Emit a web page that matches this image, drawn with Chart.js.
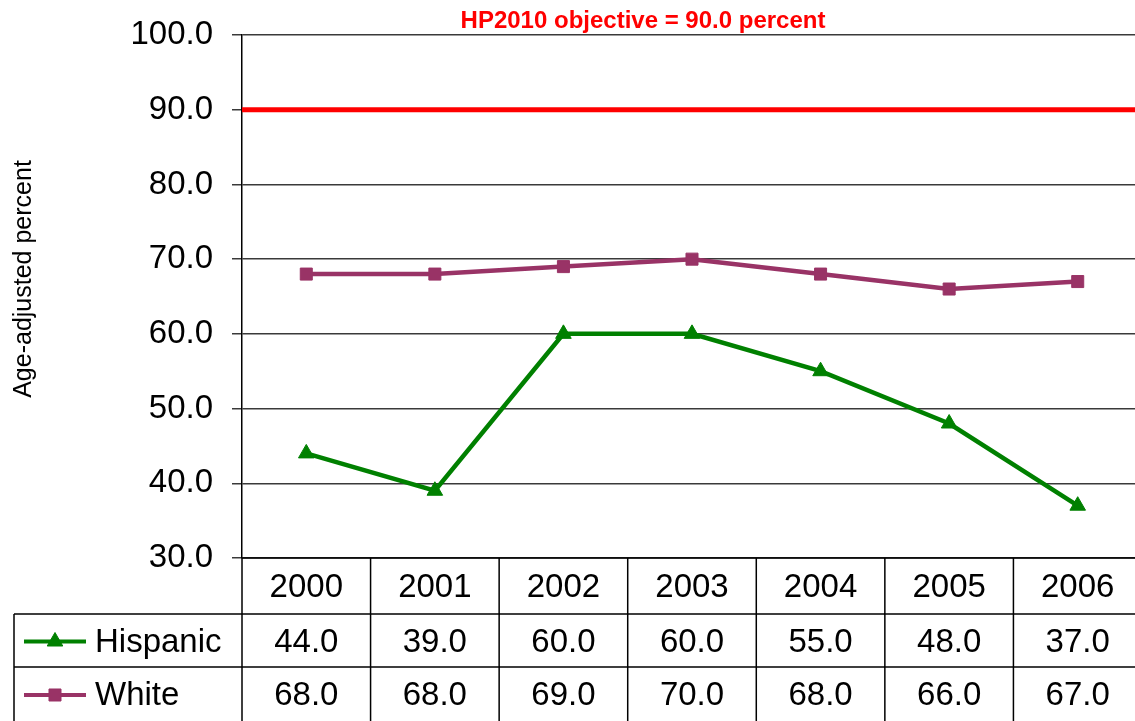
<!DOCTYPE html>
<html>
<head>
<meta charset="utf-8">
<script src="https://cdn.jsdelivr.net/npm/chart.js@4"></script>
<style>
  html, body { margin: 0; padding: 0; background: #fff; overflow: hidden; }
  #wrap { width: 1142px; height: 721px; position: relative; }
</style>
</head>
<body>
<div id="wrap"><canvas id="chart"></canvas></div>
<script>
// data
const years = ['2000', '2001', '2002', '2003', '2004', '2005', '2006'];
const hispanic = [44.0, 39.0, 60.0, 60.0, 55.0, 48.0, 37.0];
const white = [68.0, 68.0, 69.0, 70.0, 68.0, 66.0, 67.0];
const objective = 90.0;
const objectiveLabel = 'HP2010 objective = 90.0 percent';
const yTitle = 'Age-adjusted percent';

const FONT = 'Arial, "Liberation Sans", sans-serif';

// red objective line, its caption and the y axis title
const objectivePlugin = {
  id: 'objective',
  afterDatasetsDraw(chart) {
    const ctx = chart.ctx, a = chart.chartArea;
    const y = chart.scales.y.getPixelForValue(objective);
    ctx.save();
    ctx.strokeStyle = '#ff0000';
    ctx.lineWidth = 5;
    ctx.beginPath();
    ctx.moveTo(a.left, y);
    ctx.lineTo(a.right, y);
    ctx.stroke();
    ctx.fillStyle = '#ff0000';
    ctx.font = 'bold 24px ' + FONT;
    ctx.textAlign = 'center';
    ctx.textBaseline = 'middle';
    ctx.fillText(objectiveLabel, 643, 21);

    ctx.fillStyle = '#000';
    ctx.font = '25px ' + FONT;
    ctx.translate(24, 279);
    ctx.rotate(-Math.PI / 2);
    ctx.fillText(yTitle, 0, 0);
    ctx.restore();
  }
};

// data table under the plot (Excel style)
const tablePlugin = {
  id: 'dataTable',
  afterDraw(chart) {
    const ctx = chart.ctx, a = chart.chartArea, xs = chart.scales.x;
    const top = a.bottom, r1 = 614, r2 = 667, bottom = 721, tableLeft = 14;
    const half = (xs.getPixelForValue(1) - xs.getPixelForValue(0)) / 2;
    ctx.save();
    ctx.strokeStyle = '#000';
    ctx.lineWidth = 1.5;
    ctx.beginPath();
    ctx.moveTo(a.left, top); ctx.lineTo(a.right, top);
    ctx.moveTo(tableLeft, r1); ctx.lineTo(a.right, r1);
    ctx.moveTo(tableLeft, r2); ctx.lineTo(a.right, r2);
    ctx.moveTo(tableLeft, r1); ctx.lineTo(tableLeft, bottom);
    ctx.moveTo(a.left, top); ctx.lineTo(a.left, bottom);
    for (let i = 0; i < years.length; i++) {
      const bx = xs.getPixelForValue(i) + half;
      ctx.moveTo(bx, top); ctx.lineTo(bx, bottom);
    }
    ctx.stroke();

    ctx.fillStyle = '#000';
    ctx.font = '33px ' + FONT;
    ctx.textAlign = 'center';
    ctx.textBaseline = 'middle';
    const rows = [hispanic, white];
    const rowY = [(r1 + r2) / 2 + 2, (r2 + bottom) / 2 + 2];
    for (let i = 0; i < years.length; i++) {
      const cx = xs.getPixelForValue(i);
      ctx.fillText(years[i], cx, (top + r1) / 2 + 2);
      rows.forEach((vals, k) => ctx.fillText(vals[i].toFixed(1), cx, rowY[k]));
    }

    // legend keys
    chart.data.datasets.forEach((ds, k) => {
      const y = rowY[k] - 1;
      ctx.strokeStyle = ds.borderColor;
      ctx.lineWidth = 4;
      ctx.beginPath();
      ctx.moveTo(24, y); ctx.lineTo(86, y);
      ctx.stroke();
      ctx.fillStyle = ds.backgroundColor;
      ctx.strokeStyle = ds.borderColor;
      ctx.lineWidth = 1;
      Chart.helpers.drawPoint(ctx, { pointStyle: ds.pointStyle, radius: ds.pointRadius, rotation: 0, borderWidth: 1 }, 55, y);
      ctx.fillStyle = '#000';
      ctx.textAlign = 'left';
      ctx.fillText(ds.label, 95, rowY[k]);
    });
    ctx.restore();
  }
};

const context = document.getElementById('chart').getContext('2d');
const chart = new Chart(context, {
  type: 'line',
  data: {
    labels: years,
    datasets: [
      {
        label: 'Hispanic',
        data: hispanic,
        borderColor: '#008000',
        backgroundColor: '#008000',
        borderWidth: 4.5,
        pointStyle: 'triangle',
        pointRadius: 9,
        pointBorderWidth: 1,
        tension: 0
      },
      {
        label: 'White',
        data: white,
        borderColor: '#993366',
        backgroundColor: '#993366',
        borderWidth: 4.5,
        pointStyle: 'rect',
        pointRadius: 8.5,
        pointBorderWidth: 1,
        tension: 0
      }
    ]
  },
  options: {
    responsive: true,
    maintainAspectRatio: false,
    animation: false,
    layout: { autoPadding: false, padding: { top: 35, bottom: 163, left: 0, right: 0 } },
    plugins: {
      legend: { display: false },
      tooltip: { enabled: false }
    },
    scales: {
      x: {
        display: false,
        offset: true
      },
      y: {
        min: 30,
        max: 100,
        ticks: {
          stepSize: 10,
          color: '#000',
          font: { size: 33, family: FONT, lineHeight: 1 },
          padding: 19,
          callback: v => v.toFixed(1)
        },
        grid: {
          color: '#3a3a3a',
          lineWidth: 1.5,
          tickLength: 10
        },
        border: { color: '#000', width: 1.5 },
        afterFit(scale) {
          scale.width = 242;
          scale.paddingTop = 0;
          scale.paddingBottom = 0;
        }
      }
    }
  },
  plugins: [objectivePlugin, tablePlugin]
});
</script>
</body>
</html>
